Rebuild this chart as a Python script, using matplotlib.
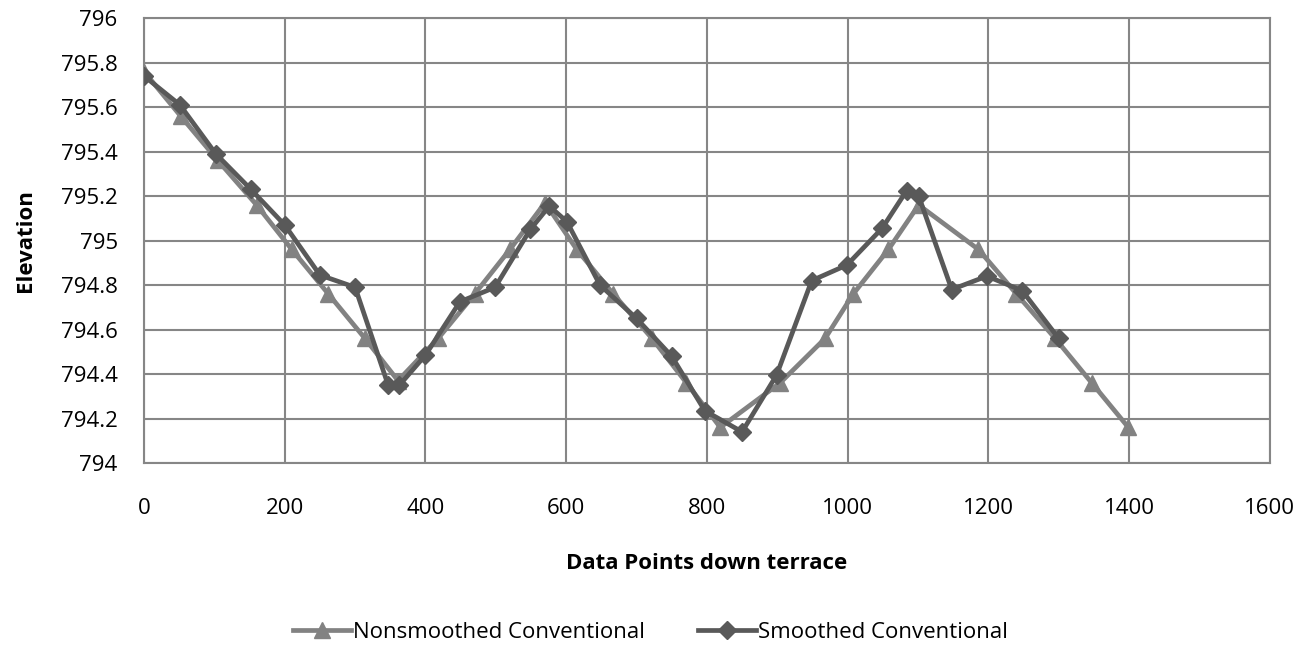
import matplotlib
matplotlib.use("Agg")
import matplotlib.pyplot as plt
from matplotlib.ticker import FuncFormatter, MultipleLocator

plt.rcParams['font.family'] = ['Open Sans', 'DejaVu Sans']

ns_x = [0, 52, 105, 160, 210, 262, 314, 361, 418, 470, 520, 570, 615, 667, 722,
        771, 819, 904, 968, 1008, 1058, 1101, 1186, 1240, 1295, 1347, 1399]
ns_y = [795.76, 795.56, 795.36, 795.16, 794.96, 794.76, 794.56, 794.37, 794.56,
        794.76, 794.96, 795.17, 794.96, 794.76, 794.56, 794.36, 794.16, 794.36,
        794.56, 794.76, 794.96, 795.16, 794.96, 794.76, 794.56, 794.36, 794.16]

sm_x = [0, 51, 102, 152, 200, 250, 300, 347, 363, 400, 449, 499, 549, 576, 601,
        648, 700, 750, 797, 850, 899, 949, 999, 1049, 1084, 1101, 1148, 1198, 1248, 1300]
sm_y = [795.74, 795.61, 795.39, 795.23, 795.07, 794.845, 794.79, 794.35, 794.35,
        794.485, 794.725, 794.79, 795.05, 795.155, 795.085, 794.80, 794.65, 794.48,
        794.235, 794.14, 794.395, 794.82, 794.89, 795.055, 795.225, 795.20, 794.78,
        794.84, 794.775, 794.56]

FS = 16

fig = plt.figure(figsize=(13.01, 6.48), dpi=100)
ax = fig.add_axes([0.1107, 0.2855, 0.8653, 0.6865])

ax.plot(ns_x, ns_y, color='#828282', lw=3.4, marker='^', ms=12,
        label='Nonsmoothed Conventional', zorder=3)
ax.plot(sm_x, sm_y, color='#595959', lw=3.4, marker='D', ms=9,
        label='Smoothed Conventional', zorder=4)

ax.set_xlim(0, 1600)
ax.set_ylim(794, 796)
ax.xaxis.set_major_locator(MultipleLocator(200))
ax.yaxis.set_major_locator(MultipleLocator(0.2))
ax.yaxis.set_major_formatter(FuncFormatter(lambda v, p: f"{round(v, 1):g}"))
ax.grid(True, color='#868686', lw=1.5)
ax.set_axisbelow(True)
for s in ax.spines.values():
    s.set_color('#868686')
    s.set_linewidth(1.5)
ax.tick_params(length=0, labelsize=FS, colors='black')
ax.tick_params(axis='x', pad=25)
ax.tick_params(axis='y', pad=19)

ax.set_xlabel('Data Points down terrace', fontsize=FS, fontweight='bold', labelpad=25)
ax.set_ylabel('Elevation', fontsize=FS, fontweight='bold', labelpad=18)

fig.legend(loc='center', bbox_to_anchor=(0.5, 0.024), ncol=2, frameon=False,
           fontsize=FS, handlelength=2.6, handletextpad=0.1, columnspacing=2.4)

fig.savefig('out.png', dpi=100)
